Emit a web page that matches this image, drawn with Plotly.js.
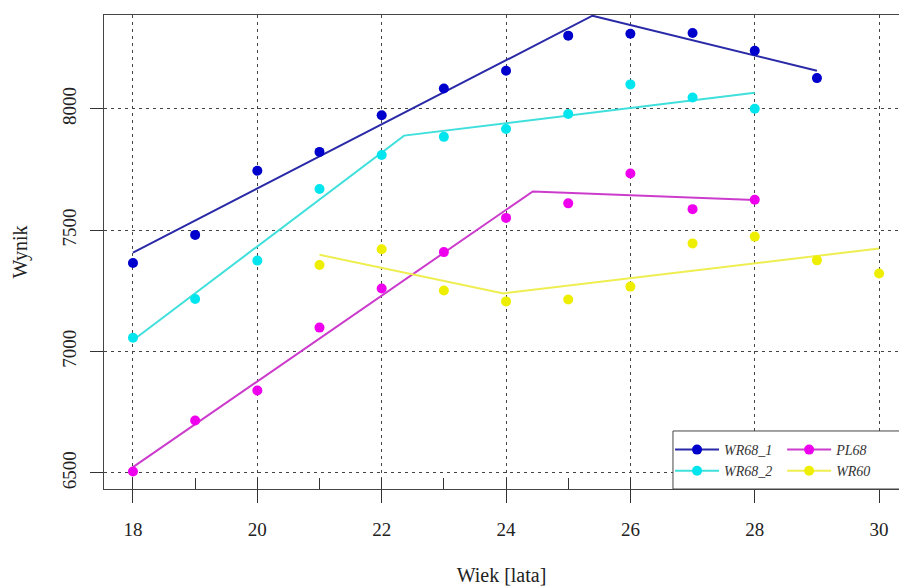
<!DOCTYPE html>
<html>
<head>
<meta charset="utf-8">
<script src="https://cdn.plot.ly/plotly-3.0.1.min.js"></script>
<style>html,body{margin:0;padding:0;background:#fff;}#chart{width:899px;height:586px;}</style>
</head>
<body>
<div id="chart"></div>
<script>
// ---- data ----
var ageWR68_1 = [18, 19, 20, 21, 22, 23, 24, 25, 26, 27, 28, 29];
var valWR68_1 = [7365, 7481, 7745, 7823, 7974, 8084, 8157, 8302, 8310, 8313, 8240, 8127];
var fitAgeWR68_1 = [18, 25.39, 29];
var fitValWR68_1 = [7408, 8384, 8157];

var ageWR68_2 = [18, 19, 20, 21, 22, 23, 24, 25, 26, 27, 28];
var valWR68_2 = [7057, 7217, 7375, 7670, 7810, 7885, 7917, 7979, 8101, 8047, 8001];
var fitAgeWR68_2 = [18, 22.36, 28];
var fitValWR68_2 = [7047, 7890, 8067];

var agePL68 = [18, 19, 20, 21, 22, 23, 24, 25, 26, 27, 28];
var valPL68 = [6506, 6716, 6840, 7099, 7260, 7410, 7551, 7611, 7734, 7587, 7626];
var fitAgePL68 = [18, 24.43, 28];
var fitValPL68 = [6524, 7660, 7625];

var ageWR60 = [21, 22, 23, 24, 25, 26, 27, 28, 29, 30];
var valWR60 = [7357, 7422, 7252, 7207, 7215, 7268, 7446, 7474, 7376, 7322];
var fitAgeWR60 = [21, 23.96, 30];
var fitValWR60 = [7399, 7240, 7425];

var seriesNames = ["WR68_1", "WR68_2", "PL68", "WR60"];
var xTicks = [18, 20, 22, 24, 26, 28, 30];
var yTicks = [6500, 7000, 7500, 8000];

// ---- styles ----
var pointColors = ["#0000CD", "#00E5EE", "#EE00EE", "#EEEE00"];
var lineColors = ["#2A2AA8", "#3FE0DC", "#CC3CCC", "#EEEE50"];
var FONT = '"Liberation Serif", "DejaVu Serif", serif';

var ages = [ageWR68_1, ageWR68_2, agePL68, ageWR60];
var vals = [valWR68_1, valWR68_2, valPL68, valWR60];
var fitAges = [fitAgeWR68_1, fitAgeWR68_2, fitAgePL68, fitAgeWR60];
var fitVals = [fitValWR68_1, fitValWR68_2, fitValPL68, fitValWR60];
var legendOf = ["legend", "legend", "legend2", "legend2"];

var traces = [];
for (var i = 0; i < 4; i++) {
  traces.push({
    x: fitAges[i], y: fitVals[i], mode: "lines", type: "scatter",
    line: {color: lineColors[i], width: 2}, showlegend: false, hoverinfo: "skip"
  });
}
for (var i = 0; i < 4; i++) {
  traces.push({
    x: ages[i], y: vals[i], mode: "markers", type: "scatter",
    marker: {color: pointColors[i], size: 10}, showlegend: false, name: seriesNames[i]
  });
}
// legend entries
for (var i = 0; i < 4; i++) {
  traces.push({
    x: [null], y: [null], mode: "lines+markers", type: "scatter",
    name: seriesNames[i], legend: legendOf[i],
    line: {color: lineColors[i], width: 2},
    marker: {color: pointColors[i], size: 10}
  });
}
// carrier for the inner minor-tick axis
traces.push({x: [null], y: [null], xaxis: "x2", yaxis: "y", mode: "markers", showlegend: false});

var xr = [17.534, 30.32];
var yr = [6434, 8387];

var legendFont = {family: FONT, size: 14, color: "#333", style: "italic"};

var layout = {
  width: 899, height: 586,
  margin: {l: 104, r: 0, t: 15, b: 97},
  paper_bgcolor: "#fff", plot_bgcolor: "#fff",
  font: {family: FONT, color: "#222"},
  xaxis: {
    range: xr, tickvals: xTicks, ticktext: xTicks.map(String),
    ticks: "outside", ticklen: 13, tickwidth: 1, tickcolor: "#333",
    showline: true, linecolor: "#444", linewidth: 1, mirror: true,
    showgrid: true, gridcolor: "#444", gridwidth: 1, griddash: "3px,4px",
    zeroline: false, tickfont: {family: FONT, size: 19, color: "#222"},
    ticklabelstandoff: 10,
    title: {text: "Wiek [lata]", font: {family: FONT, size: 20, color: "#222"}, standoff: 30}
  },
  xaxis2: {
    range: xr, overlaying: "x", anchor: "y", side: "bottom",
    tickmode: "linear", tick0: 18, dtick: 1,
    ticks: "inside", ticklen: 11, tickwidth: 1, tickcolor: "#333",
    showticklabels: false, showgrid: false, showline: false, zeroline: false
  },
  yaxis: {
    range: yr, tickvals: yTicks, ticktext: yTicks.map(String),
    ticks: "outside", ticklen: 13, tickwidth: 1, tickcolor: "#333",
    showline: true, linecolor: "#444", linewidth: 1, mirror: false,
    showgrid: true, gridcolor: "#444", gridwidth: 1, griddash: "3px,4px",
    zeroline: false, tickangle: -90, tickfont: {family: FONT, size: 19, color: "#222"},
    ticklabelstandoff: 6,
    title: {text: "Wynik", font: {family: FONT, size: 20, color: "#222"}, standoff: 26}
  },
  shapes: [{
    type: "rect", xref: "paper", yref: "paper", layer: "above",
    x0: 0.7157, x1: 1.05, y0: 0, y1: 0.1224,
    fillcolor: "#fff", line: {color: "#444", width: 1}
  }],
  legend: {
    x: 0.712, y: 0.116, xanchor: "left", yanchor: "top",
    bgcolor: "rgba(0,0,0,0)", borderwidth: 0, itemwidth: 44,
    font: legendFont, tracegroupgap: 0
  },
  legend2: {
    x: 0.853, y: 0.116, xanchor: "left", yanchor: "top",
    bgcolor: "rgba(0,0,0,0)", borderwidth: 0, itemwidth: 44,
    font: legendFont, tracegroupgap: 0
  },
  showlegend: true
};

Plotly.newPlot("chart", traces, layout, {displayModeBar: false, staticPlot: true});
</script>
</body>
</html>
